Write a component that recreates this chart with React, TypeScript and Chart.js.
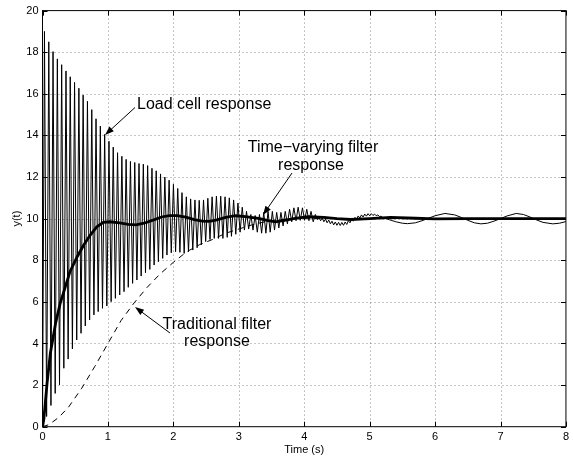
import React, { useEffect, useRef } from "react";
import { Chart, registerables } from "chart.js";
Chart.register(...registerables);

// ---- data (time s, y) ----
const xTickValues = [0, 1, 2, 3, 4, 5, 6, 7, 8];
const yTickValues = [0, 2, 4, 6, 8, 10, 12, 14, 16, 18, 20];

// Load cell response: alternating peaks / troughs
const loadCellPoints: [number, number][] = [
  [0, 0], [0.03, 19.0], [0.063, 0.49], [0.096, 18.5], [0.129, 1.02], [0.161, 18.03], [0.194, 1.6],
  [0.227, 17.68], [0.26, 2.01], [0.293, 17.4], [0.326, 2.81], [0.359, 17.1], [0.392, 3.25],
  [0.424, 16.82], [0.457, 3.74], [0.49, 16.55], [0.523, 4.17], [0.556, 16.27], [0.589, 4.49],
  [0.621, 15.94], [0.654, 4.84], [0.687, 15.64], [0.72, 5.13], [0.753, 15.24], [0.786, 5.37],
  [0.818, 14.8], [0.851, 5.53], [0.884, 14.45], [0.917, 5.69], [0.95, 14.05], [0.983, 5.8],
  [1.016, 13.72], [1.049, 6.01], [1.081, 13.44], [1.114, 6.17], [1.147, 13.17], [1.18, 6.33],
  [1.213, 13.0], [1.246, 6.49], [1.278, 12.85], [1.311, 6.7], [1.344, 12.75], [1.377, 6.89],
  [1.41, 12.7], [1.443, 7.05], [1.475, 12.65], [1.508, 7.24], [1.541, 12.62], [1.574, 7.4],
  [1.607, 12.55], [1.64, 7.56], [1.673, 12.42], [1.706, 7.77], [1.738, 12.3], [1.771, 7.93],
  [1.804, 12.15], [1.837, 8.09], [1.87, 12.0], [1.902, 8.25], [1.935, 11.85], [1.968, 8.36],
  [2.001, 11.65], [2.034, 8.41], [2.067, 11.45], [2.1, 8.38], [2.132, 11.25], [2.165, 8.33],
  [2.198, 11.05], [2.231, 8.41], [2.264, 10.95], [2.297, 8.49], [2.33, 10.9], [2.363, 8.6],
  [2.395, 10.88], [2.428, 8.75], [2.461, 10.9], [2.494, 8.9], [2.527, 10.98], [2.56, 9.0],
  [2.592, 11.05], [2.625, 9.05], [2.658, 11.08], [2.691, 9.05], [2.724, 11.08], [2.757, 9.05],
  [2.79, 11.05], [2.823, 9.1], [2.855, 11.0], [2.888, 9.15], [2.921, 10.9], [2.954, 9.25],
  [2.987, 10.75], [3.02, 9.35], [3.053, 10.55], [3.086, 9.45], [3.118, 10.35], [3.151, 9.5],
  [3.184, 10.2], [3.217, 9.45], [3.25, 10.15], [3.283, 9.35], [3.316, 10.2], [3.349, 9.3],
  [3.381, 10.3], [3.414, 9.3], [3.447, 10.35], [3.48, 9.35], [3.513, 10.35], [3.546, 9.45],
  [3.579, 10.3], [3.612, 9.55], [3.644, 10.3], [3.677, 9.65], [3.71, 10.35], [3.743, 9.75],
  [3.776, 10.45], [3.809, 9.85], [3.842, 10.52], [3.875, 9.9], [3.907, 10.55], [3.94, 9.92],
  [3.973, 10.52], [4.006, 9.92], [4.039, 10.45], [4.072, 9.9], [4.104, 10.35], [4.137, 9.85],
  [4.17, 10.2], [4.2, 9.95],
  [4.225, 10.08], [4.25, 9.9], [4.275, 10.03], [4.3, 9.85], [4.325, 9.98], [4.35, 9.8],
  [4.375, 9.93], [4.4, 9.75], [4.425, 9.88], [4.45, 9.7], [4.475, 9.84], [4.5, 9.68],
  [4.525, 9.82], [4.55, 9.67], [4.575, 9.82], [4.6, 9.68], [4.625, 9.84], [4.65, 9.72],
  [4.675, 9.9], [4.7, 9.8], [4.725, 9.98], [4.75, 9.88], [4.775, 10.06], [4.8, 9.96],
  [4.825, 10.13], [4.85, 10.03], [4.875, 10.18], [4.9, 10.08], [4.925, 10.22], [4.95, 10.12],
  [4.975, 10.24], [5.0, 10.14], [5.025, 10.24], [5.05, 10.15], [5.075, 10.22], [5.1, 10.14],
  [5.125, 10.18], [5.15, 10.1], [5.175, 10.12], [5.2, 10.05],
  [5.3, 9.95], [5.4, 9.85], [5.5, 9.78], [5.58, 9.76], [5.7, 9.8], [5.8, 9.9], [5.9, 10.02],
  [6.0, 10.14], [6.15, 10.25], [6.3, 10.18], [6.4, 10.06], [6.5, 9.92], [6.6, 9.8], [6.7, 9.75],
  [6.8, 9.78], [6.9, 9.88], [7.0, 10.0], [7.1, 10.13], [7.24, 10.25], [7.35, 10.2], [7.45, 10.08],
  [7.55, 9.94], [7.65, 9.82], [7.8, 9.75], [7.9, 9.78], [8.0, 9.86],
];

// Time-varying filter response (thick line)
const timeVaryingPoints: [number, number][] = [
  [0, 0], [0.02, 0.34], [0.07, 2.1], [0.12, 3.53], [0.2, 4.97], [0.27, 5.93], [0.35, 6.73],
  [0.42, 7.45], [0.53, 8.17], [0.63, 8.73], [0.73, 9.21], [0.83, 9.61], [0.93, 9.82],
  [1.03, 9.85], [1.18, 9.8], [1.31, 9.72], [1.43, 9.7], [1.55, 9.78], [1.69, 9.93],
  [1.82, 10.08], [1.94, 10.15], [2.06, 10.15], [2.19, 10.07], [2.32, 9.95], [2.44, 9.88],
  [2.55, 9.87], [2.65, 9.93], [2.8, 10.06], [2.95, 10.14], [3.1, 10.1], [3.3, 10.01],
  [3.45, 9.9], [3.56, 9.85], [3.7, 9.92], [3.86, 10.01], [4.06, 10.09], [4.3, 10.06],
  [4.5, 10.0], [4.71, 9.96], [5.0, 10.0], [5.32, 10.06], [5.7, 10.02], [6.0, 9.99],
  [6.5, 10.0], [7.0, 10.0], [7.5, 10.0], [8.0, 10.0],
];

// Traditional filter response (dashed line)
const traditionalPoints: [number, number][] = [
  [0, 0], [0.1, 0.1], [0.25, 0.45], [0.4, 0.95], [0.6, 1.85], [0.8, 2.9], [1.0, 4.0],
  [1.2, 5.1], [1.4, 5.95], [1.6, 6.7], [1.8, 7.35], [2.0, 7.9], [2.2, 8.4], [2.4, 8.75],
  [2.6, 9.0], [2.8, 9.3], [3.0, 9.5], [3.2, 9.7], [3.4, 9.85], [3.6, 9.95], [3.8, 10.0],
  [4.0, 10.02], [5.0, 10.0], [6.0, 10.0], [7.0, 10.0], [8.0, 10.0],
];

const FONT = "'Liberation Sans', Arial, Helvetica, sans-serif";

function toXY(pts: [number, number][]) {
  return pts.map(([x, y]) => ({ x, y }));
}

function drawArrow(ctx: CanvasRenderingContext2D, x1: number, y1: number, x2: number, y2: number) {
  const ang = Math.atan2(y2 - y1, x2 - x1);
  const len = 9, hw = 3.2;
  ctx.save();
  ctx.strokeStyle = "#000";
  ctx.fillStyle = "#000";
  ctx.lineWidth = 1;
  ctx.beginPath();
  ctx.moveTo(x1, y1);
  ctx.lineTo(x2 - Math.cos(ang) * len * 0.8, y2 - Math.sin(ang) * len * 0.8);
  ctx.stroke();
  ctx.beginPath();
  ctx.moveTo(x2, y2);
  ctx.lineTo(x2 - Math.cos(ang) * len - Math.sin(ang) * hw, y2 - Math.sin(ang) * len + Math.cos(ang) * hw);
  ctx.lineTo(x2 - Math.cos(ang) * len + Math.sin(ang) * hw, y2 - Math.sin(ang) * len - Math.cos(ang) * hw);
  ctx.closePath();
  ctx.fill();
  ctx.restore();
}

const matlabPlugin = {
  id: "matlabFrame",
  beforeDatasetsDraw(chart: any) {
    const { ctx, chartArea: a, scales } = chart;
    ctx.save();
    ctx.strokeStyle = "rgba(0,0,0,0.45)";
    ctx.lineWidth = 1;
    ctx.setLineDash([1, 3]);
    xTickValues.slice(1, -1).forEach((v) => {
      const px = Math.round(scales.x.getPixelForValue(v)) + 0.5;
      ctx.beginPath();
      ctx.moveTo(px, a.top);
      ctx.lineTo(px, a.bottom);
      ctx.stroke();
    });
    yTickValues.slice(1, -1).forEach((v) => {
      const py = Math.round(scales.y.getPixelForValue(v)) + 0.5;
      ctx.beginPath();
      ctx.moveTo(a.left, py);
      ctx.lineTo(a.right, py);
      ctx.stroke();
    });
    ctx.restore();
  },
  afterDraw(chart: any) {
    const { ctx, chartArea: a, scales } = chart;
    ctx.save();
    ctx.strokeStyle = "#000";
    ctx.lineWidth = 1;
    ctx.setLineDash([]);
    ctx.strokeRect(a.left, a.top, a.right - a.left, a.bottom - a.top);
    const tl = 5;
    ctx.beginPath();
    xTickValues.forEach((v) => {
      const px = Math.round(scales.x.getPixelForValue(v)) + 0.5;
      ctx.moveTo(px, a.bottom);
      ctx.lineTo(px, a.bottom - tl);
      ctx.moveTo(px, a.top);
      ctx.lineTo(px, a.top + tl);
    });
    yTickValues.forEach((v) => {
      const py = Math.round(scales.y.getPixelForValue(v)) + 0.5;
      ctx.moveTo(a.left, py);
      ctx.lineTo(a.left + tl, py);
      ctx.moveTo(a.right, py);
      ctx.lineTo(a.right - tl, py);
    });
    ctx.stroke();

    // axis titles
    ctx.fillStyle = "#000";
    ctx.font = `11px ${FONT}`;
    ctx.textAlign = "center";
    ctx.textBaseline = "middle";
    ctx.fillText("Time (s)", (a.left + a.right) / 2, 450);
    ctx.save();
    ctx.translate(17, (a.top + a.bottom) / 2);
    ctx.rotate(-Math.PI / 2);
    ctx.fillText("y(t)", 0, 0);
    ctx.restore();

    // annotations
    ctx.font = `16px ${FONT}`;
    ctx.textBaseline = "alphabetic";
    ctx.textAlign = "left";
    ctx.fillText("Load cell response", 137, 109);
    ctx.textAlign = "center";
    ctx.fillText("Time\u2212varying filter", 313, 152);
    ctx.fillText("response", 311, 169.5);
    ctx.fillText("Traditional filter", 217, 328.5);
    ctx.fillText("response", 217, 346);

    drawArrow(ctx, 135, 107.5, 105, 135);
    drawArrow(ctx, 292, 173, 263, 215);
    drawArrow(ctx, 170, 333, 135, 307);
    ctx.restore();
  },
};

export default function App() {
  const ref = useRef<HTMLCanvasElement>(null);
  useEffect(() => {
    if (!ref.current) return;
    const chart = new Chart(ref.current, {
      type: "line",
      data: {
        datasets: [
          {
            label: "Time-varying filter response",
            data: toXY(timeVaryingPoints),
            borderColor: "#000",
            borderWidth: 2.8,
            pointRadius: 0,
            tension: 0,
            fill: false,
          },
          {
            label: "Traditional filter response",
            data: toXY(traditionalPoints),
            borderColor: "#000",
            borderWidth: 1,
            borderDash: [6, 5],
            pointRadius: 0,
            tension: 0,
            fill: false,
          },
          {
            label: "Load cell response",
            data: toXY(loadCellPoints),
            borderColor: "#000",
            borderWidth: 1,
            pointRadius: 0,
            tension: 0,
            fill: false,
          },
        ],
      },
      options: {
        animation: false,
        responsive: false,
        devicePixelRatio: 1,
        parsing: false as any,
        normalized: true,
        layout: { padding: { top: 10, right: 2.5, left: 0, bottom: 0 } },
        plugins: { legend: { display: false }, tooltip: { enabled: false } },
        events: [],
        scales: {
          x: {
            type: "linear",
            min: 0,
            max: 8,
            afterFit: (s: any) => { s.height = 31.3; },
            afterBuildTicks: (s: any) => { s.ticks = xTickValues.map((v) => ({ value: v })); },
            ticks: { color: "#000", font: { size: 11, family: FONT }, padding: 4, maxRotation: 0, autoSkip: false },
            grid: { display: false, drawTicks: false },
            border: { display: false },
          },
          y: {
            type: "linear",
            min: 0,
            max: 20,
            afterFit: (s: any) => { s.width = 42.5; },
            afterBuildTicks: (s: any) => { s.ticks = yTickValues.map((v) => ({ value: v })); },
            ticks: { color: "#000", font: { size: 11, family: FONT }, padding: 4, autoSkip: false },
            grid: { display: false, drawTicks: false },
            border: { display: false },
          },
        },
      },
      plugins: [matlabPlugin],
    });
    return () => chart.destroy();
  }, []);
  return (
    <div style={{ position: "fixed", left: 0, top: 0, width: 573, height: 458, background: "#fff" }}>
      <canvas ref={ref} width={573} height={458} style={{ display: "block", width: 573, height: 458 }} />
    </div>
  );
}
